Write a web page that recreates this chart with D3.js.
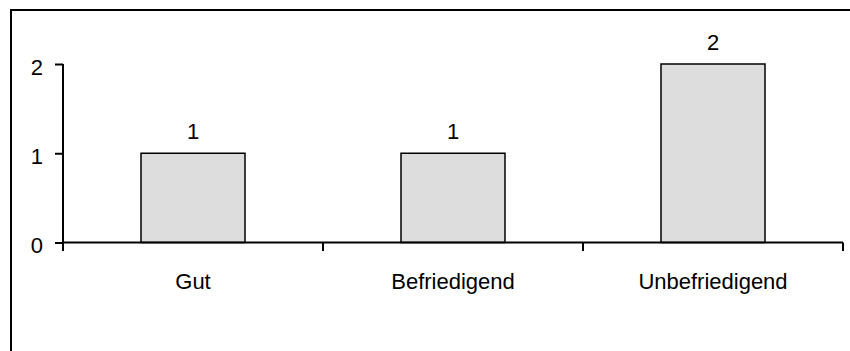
<!DOCTYPE html>
<html>
<head>
<meta charset="utf-8">
<script src="https://cdn.jsdelivr.net/npm/d3@7"></script>
<style>
  html, body { margin: 0; padding: 0; background: #fff; }
  svg { display: block; }
  text { font-family: "Liberation Sans", Arial, sans-serif; fill: #000; }
</style>
</head>
<body>
<svg id="chart" width="850" height="351"></svg>
<script>
// Ratings and how often each was given
const categories = ["Gut", "Befriedigend", "Unbefriedigend"];
const counts = [1, 1, 2];
const yTicks = [0, 1, 2];

const svg = d3.select("#chart");
const W = 850, H = 351;
const fontSize = 22;

// Outer frame (runs past the right and bottom edges)
svg.append("rect")
  .attr("x", 11).attr("y", 10)
  .attr("width", W + 20).attr("height", H + 20)
  .attr("fill", "none").attr("stroke", "#000").attr("stroke-width", 2);

const plot = { left: 63, right: 843, top: 64, bottom: 242.5 };

const x = d3.scaleBand()
  .domain(categories)
  .range([plot.left, plot.right])
  .paddingInner(0.6)
  .paddingOuter(0.3);

const y = d3.scaleLinear()
  .domain([0, 2])
  .range([plot.bottom, plot.top]);

// Bars
svg.append("g").selectAll("rect")
  .data(categories)
  .join("rect")
  .attr("x", d => x(d))
  .attr("y", (d, i) => y(counts[i]))
  .attr("width", x.bandwidth())
  .attr("height", (d, i) => y(0) - y(counts[i]))
  .attr("fill", "#dddddd")
  .attr("stroke", "#000")
  .attr("stroke-width", 1.5);

// Value labels above the bars
svg.append("g").selectAll("text")
  .data(categories)
  .join("text")
  .attr("x", d => x(d) + x.bandwidth() / 2)
  .attr("y", (d, i) => y(counts[i]) - 14)
  .attr("text-anchor", "middle")
  .attr("font-size", fontSize)
  .text((d, i) => counts[i]);

// Y axis
const yAxis = svg.append("g")
  .attr("transform", `translate(${plot.left},0)`)
  .call(d3.axisLeft(y).tickValues(yTicks).tickFormat(d3.format("d")).tickSize(8).tickPadding(12));
yAxis.select(".domain").attr("stroke", "#000").attr("stroke-width", 2)
  .attr("d", `M0,${plot.top}V${plot.bottom}`);
yAxis.selectAll(".tick line").attr("stroke", "#000").attr("stroke-width", 2);
yAxis.selectAll(".tick text")
  .attr("font-size", fontSize)
  .attr("font-family", "Liberation Sans, Arial, sans-serif")
  .attr("fill", "#000")
  .attr("dy", "0.46em");

// X axis: line with ticks at the category boundaries
const boundaries = d3.range(categories.length + 1)
  .map(i => plot.left + i * (plot.right - plot.left) / categories.length);
const xAxis = svg.append("g");
xAxis.append("line")
  .attr("x1", plot.left).attr("x2", plot.right)
  .attr("y1", plot.bottom).attr("y2", plot.bottom)
  .attr("stroke", "#000").attr("stroke-width", 2);
xAxis.selectAll("line.tick")
  .data(boundaries)
  .join("line")
  .attr("class", "tick")
  .attr("x1", d => d).attr("x2", d => d)
  .attr("y1", plot.bottom).attr("y2", plot.bottom + 8.5)
  .attr("stroke", "#000").attr("stroke-width", 2);
xAxis.selectAll("text")
  .data(categories)
  .join("text")
  .attr("x", d => x(d) + x.bandwidth() / 2)
  .attr("y", 289)
  .attr("text-anchor", "middle")
  .attr("font-size", fontSize)
  .text(d => d);
</script>
</body>
</html>
